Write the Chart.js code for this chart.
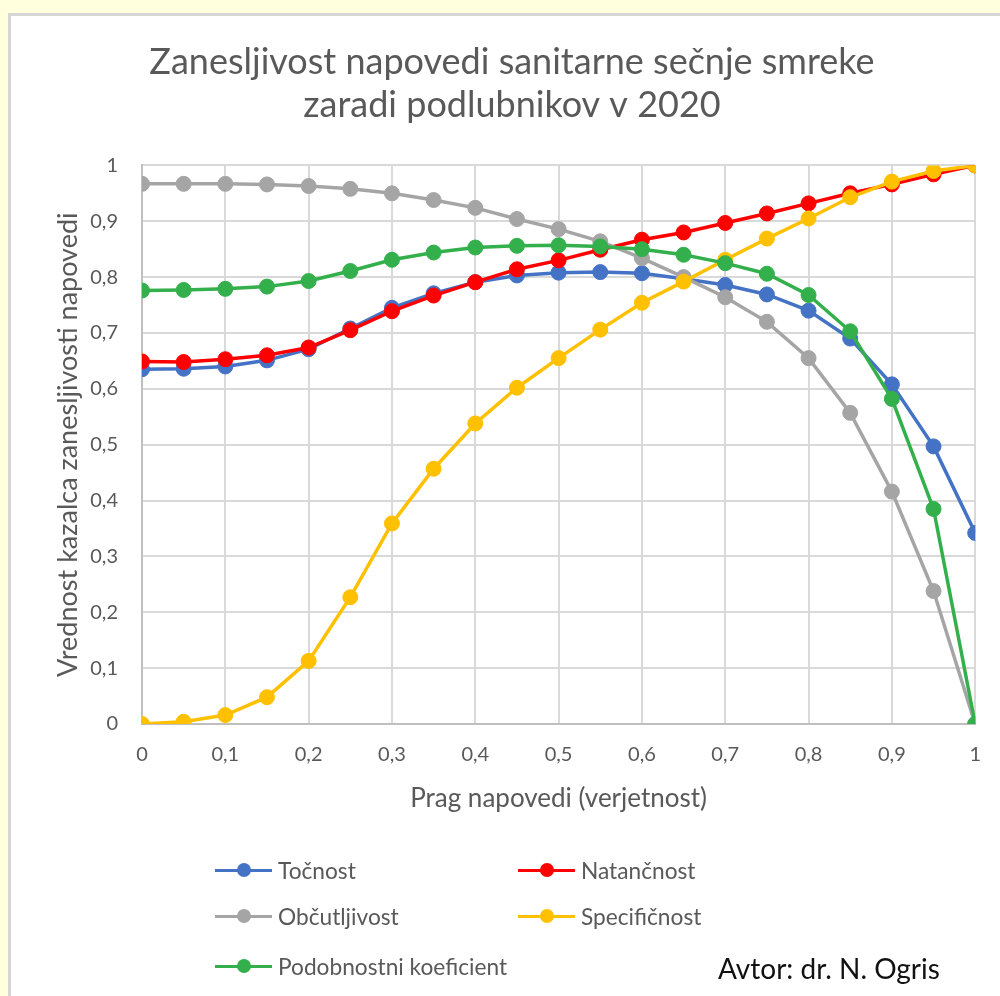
<!DOCTYPE html>
<html>
<head>
<meta charset="utf-8">
<script src="https://cdn.jsdelivr.net/npm/chart.js@4.4.1/dist/chart.umd.min.js"></script>
<style>
  html, body { margin: 0; padding: 0; }
  body { width: 1000px; height: 996px; background: #FFFEDD; position: relative; overflow: hidden; font-family: Lato, "Open Sans", sans-serif; }
  #card { position: absolute; left: 8px; top: 13px; width: 1000px; height: 1000px; background: #fff; border-left: 3px solid #d6d6d6; border-top: 3px solid #d6d6d6; }
  #wrap { position: absolute; left: 0; top: 0; width: 1000px; height: 996px; }
  .leg { position: absolute; height: 24px; display: flex; align-items: center; color: #595959; font-size: 22.7px; white-space: nowrap; }
  .sw { position: relative; width: 57px; height: 24px; margin-right: 6px; }
  .sw .ln { position: absolute; left: 0; right: 0; top: 10.5px; height: 3.5px; }
  .sw .dt { position: absolute; left: 22px; top: 5px; width: 14px; height: 14px; border-radius: 50%; }
  #author { position: absolute; left: 718px; top: 951px; font-size: 28px; line-height: 34px; color: #111; white-space: nowrap; }
</style>
</head>
<body>
<div id="card"></div>
<div id="wrap"><canvas id="c" width="1000" height="996"></canvas></div>
<div id="legend"></div>
<div id="author">Avtor: dr. N. Ogris</div>
<script>
// Prag napovedi (threshold) categories
const thresholds = [0, 0.05, 0.1, 0.15, 0.2, 0.25, 0.3, 0.35, 0.4, 0.45, 0.5, 0.55, 0.6, 0.65, 0.7, 0.75, 0.8, 0.85, 0.9, 0.95, 1];

const tocnost =        [0.635, 0.636, 0.640, 0.651, 0.671, 0.708, 0.745, 0.771, 0.791, 0.803, 0.808, 0.809, 0.807, 0.797, 0.786, 0.769, 0.740, 0.690, 0.608, 0.497, 0.342];
const natancnost =     [0.649, 0.648, 0.653, 0.660, 0.674, 0.705, 0.739, 0.767, 0.791, 0.814, 0.830, 0.849, 0.867, 0.880, 0.897, 0.914, 0.932, 0.950, 0.966, 0.984, 1.000];
const obcutljivost =   [0.967, 0.967, 0.967, 0.966, 0.963, 0.958, 0.950, 0.938, 0.924, 0.904, 0.886, 0.864, 0.834, 0.800, 0.764, 0.720, 0.655, 0.557, 0.416, 0.238, 0.000];
const specificnost =   [0.000, 0.004, 0.016, 0.048, 0.113, 0.227, 0.359, 0.457, 0.538, 0.602, 0.655, 0.706, 0.754, 0.792, 0.831, 0.869, 0.905, 0.943, 0.971, 0.990, 1.000];
const podobnostni =    [0.776, 0.777, 0.779, 0.783, 0.793, 0.811, 0.831, 0.844, 0.853, 0.856, 0.857, 0.855, 0.850, 0.840, 0.825, 0.806, 0.768, 0.703, 0.582, 0.385, 0.000];

const seriesNames = ["Točnost", "Natančnost", "Občutljivost", "Specifičnost", "Podobnostni koeficient"];
const seriesColors = ["#4472C4", "#FF0000", "#A5A5A5", "#FFC000", "#33B04B"];
const seriesValues = [tocnost, natancnost, obcutljivost, specificnost, podobnostni];

const titleLines = ["Zanesljivost napovedi sanitarne sečnje smreke", "zaradi podlubnikov v 2020"];
const xTitle = "Prag napovedi (verjetnost)";
const yTitle = "Vrednost kazalca zanesljivosti napovedi";

const datasets = seriesNames.map((name, i) => ({
  label: name,
  data: thresholds.map((t, j) => ({ x: t, y: seriesValues[i][j] })),
  borderColor: seriesColors[i],
  backgroundColor: seriesColors[i],
  pointBackgroundColor: seriesColors[i],
  pointBorderColor: seriesColors[i],
  pointRadius: 7.5,
  pointBorderWidth: 1,
  borderWidth: 3.5,
  tension: 0,
  order: seriesNames.length - i
}));

const fmt = v => {
  const r = Math.round(v * 10) / 10;
  return String(r).replace('.', ',');
};

new Chart(document.getElementById('c'), {
  type: 'line',
  data: { datasets },
  options: {
    responsive: false,
    animation: false,
    layout: { padding: { left: 24, right: 0, top: 0, bottom: 172 } },
    plugins: {
      legend: { display: false },
      tooltip: { enabled: false },
      title: {
        display: true,
        text: titleLines,
        color: '#595959',
        font: { family: 'Lato', size: 36, weight: 'normal', lineHeight: 1.2 },
        padding: { top: 41, bottom: 38 }
      }
    },
    scales: {
      x: {
        type: 'linear',
        min: 0, max: 1,
        afterFit: s => { s.height = 100; },
        ticks: {
          stepSize: 0.1, color: '#595959', padding: 19,
          font: { family: 'Lato', size: 20 },
          callback: v => fmt(v)
        },
        grid: { color: '#d9d9d9', lineWidth: 2, drawTicks: false },
        border: { color: '#bfbfbf', width: 2 },
        title: {
          display: true, text: xTitle, color: '#595959',
          font: { family: 'Lato', size: 26 }, padding: { top: 0, bottom: 10 }
        }
      },
      y: {
        min: 0, max: 1,
        afterFit: s => { s.width = 118; },
        ticks: {
          stepSize: 0.1, color: '#595959', padding: 24,
          font: { family: 'Lato', size: 20 },
          callback: v => fmt(v)
        },
        grid: { color: '#d9d9d9', lineWidth: 2, drawTicks: false },
        border: { color: '#bfbfbf', width: 2 },
        title: {
          display: true, text: yTitle, color: '#595959',
          font: { family: 'Lato', size: 27 }, padding: { top: 28, bottom: 0 }
        }
      },
      yRight: {
        type: 'linear',
        position: 'right',
        min: 0, max: 1,
        afterFit: s => { s.width = 24; },
        ticks: { display: false },
        grid: { display: false, drawTicks: false },
        border: { display: false }
      }
    }
  }
});

// Legend (HTML, real text)
const legendPos = [
  { left: 215, top: 858 }, { left: 518, top: 858 },
  { left: 215, top: 904 }, { left: 518, top: 904 },
  { left: 215, top: 954 }
];
const legendEl = document.getElementById('legend');
seriesNames.forEach((name, i) => {
  const d = document.createElement('div');
  d.className = 'leg';
  d.style.left = legendPos[i].left + 'px';
  d.style.top = legendPos[i].top + 'px';
  d.innerHTML = '<div class="sw"><div class="ln" style="background:' + seriesColors[i] + '"></div><div class="dt" style="background:' + seriesColors[i] + '"></div></div><span>' + name + '</span>';
  legendEl.appendChild(d);
});
</script>
</body>
</html>
